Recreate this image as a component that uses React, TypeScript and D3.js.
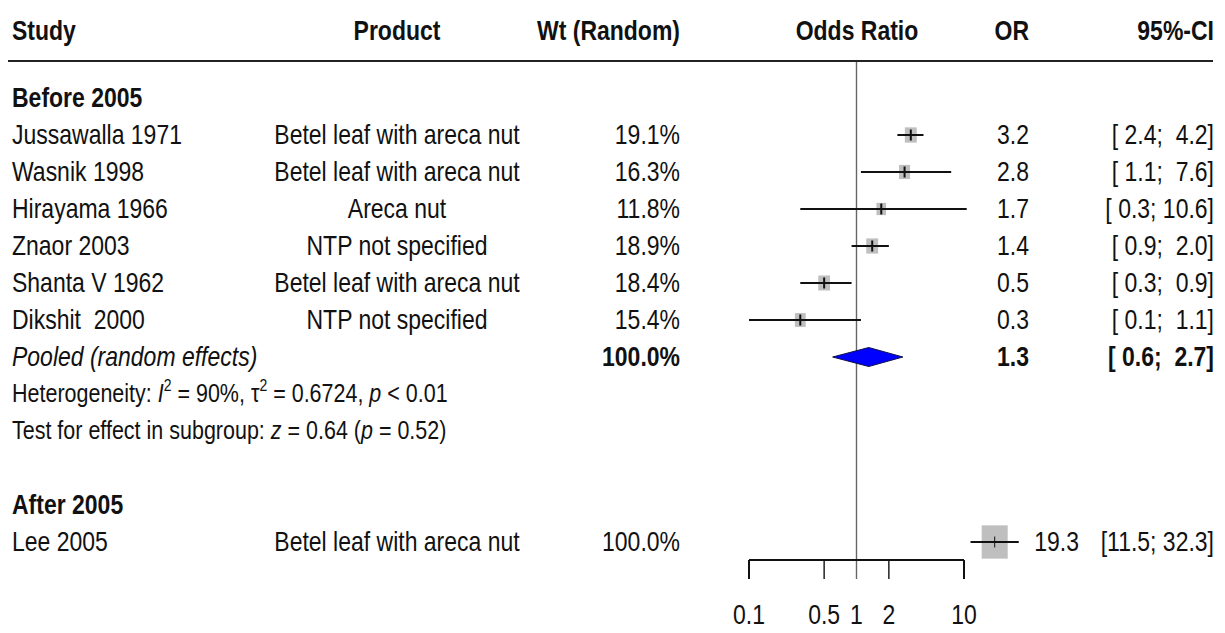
import React from 'react';
import * as d3 from 'd3';

// studies in the "Before 2005" subgroup
const studies = ['Jussawalla 1971', 'Wasnik 1998', 'Hirayama 1966', 'Znaor 2003', 'Shanta V 1962', 'Dikshit  2000'];
const products = ['Betel leaf with areca nut', 'Betel leaf with areca nut', 'Areca nut', 'NTP not specified', 'Betel leaf with areca nut', 'NTP not specified'];
const weights = [19.1, 16.3, 11.8, 18.9, 18.4, 15.4];
const ors = [3.2, 2.8, 1.7, 1.4, 0.5, 0.3];
const lowers = [2.4, 1.1, 0.3, 0.9, 0.3, 0.1];
const uppers = [4.2, 7.6, 10.6, 2.0, 0.9, 1.1];

// pooled estimate for the subgroup
const pooled = { or: 1.3, lower: 0.6, upper: 2.7, weight: 100.0 };
const hetI2 = '90%';
const hetTau2 = '0.6724';
const hetP = '< 0.01';
const testZ = '0.64';
const testP = '0.52';

// "After 2005" subgroup
const lee = { study: 'Lee 2005', product: 'Betel leaf with areca nut', weight: 100.0, or: 19.3, lower: 11.5, upper: 32.3 };

const tickValues = [0.1, 0.5, 1, 2, 10];
const tickLabels = ['0.1', '0.5', '1', '2', '10'];

const W = 1225, H = 633;
const SY = 1.18; // the picture is a little stretched vertically
const FONT = 'Liberation Sans, Arial, sans-serif';

const x = d3.scaleLog().domain([0.1, 10]).range([749, 964]);
const rowY = d3.scaleLinear().domain([0, 1]).range([98, 135]);
const boxW = d3.scaleSqrt().domain([0, 100]).range([0, 25]);

const fmtW = (w: number) => w.toFixed(1) + '%';
const fmtOR = (v: number) => v.toFixed(1);
// R style: pad each bound to 4 characters with a single space
const pad = (v: number) => {
  const s = v.toFixed(1);
  return s.length < 4 ? ' ' + s : s;
};
const fmtCI = (lo: number, hi: number) => '[' + pad(lo) + '; ' + pad(hi) + ']';

function T({ x, y, anchor = 'start', size = 23, weight = 'normal', italic = false, children }: any) {
  return (
    <text
      transform={`translate(${x},${y}) scale(1,${SY})`}
      textAnchor={anchor}
      fontSize={size}
      fontWeight={weight}
      fontStyle={italic ? 'italic' : 'normal'}
      fill="#111"
      style={{ whiteSpace: 'pre' }}
    >
      {children}
    </text>
  );
}

function Study({ cy, or, lo, hi, w }: any) {
  const bw = boxW(w) + 1;
  const bh = bw * 1.28;
  const big = w >= 50;
  return (
    <g>
      <rect x={x(or) - bw / 2} y={cy - bh / 2} width={bw} height={bh} fill="#bfbfbf" />
      <line x1={x(lo)} x2={x(hi)} y1={cy} y2={cy} stroke="#111" strokeWidth={2} />
      <line x1={x(or)} x2={x(or)} y1={cy - 5.5} y2={cy + 5.5} stroke="#111" strokeWidth={big ? 1 : 2} />
    </g>
  );
}

export default function App() {
  const base = 9; // row centre to text baseline
  const pooledY = rowY(7);
  const leeY = rowY(12);
  const axisY = 560;
  const x0 = x(tickValues[0]);
  const x1 = x(tickValues[tickValues.length - 1]);

  return (
    <svg width={W} height={H} style={{ position: 'absolute', left: 0, top: 0, background: '#fff' }} fontFamily={FONT}>
      {/* header */}
      <T x={12} y={40} weight="bold">Study</T>
      <T x={397} y={40} anchor="middle" weight="bold">Product</T>
      <T x={680} y={40} anchor="end" weight="bold">Wt (Random)</T>
      <T x={857} y={40} anchor="middle" weight="bold">Odds Ratio</T>
      <T x={1029} y={40} anchor="end" weight="bold">OR</T>
      <T x={1214} y={40} anchor="end" weight="bold">95%-CI</T>
      <line x1={8} x2={1213} y1={61} y2={61} stroke="#222" strokeWidth={2} />

      {/* reference line at OR = 1 */}
      <line x1={x(1)} x2={x(1)} y1={62} y2={axisY + 19} stroke="#666" strokeWidth={1.4} />

      {/* subgroup: before 2005 */}
      <T x={12} y={rowY(0) + base} weight="bold">Before 2005</T>
      {studies.map((s, i) => {
        const cy = rowY(i + 1);
        return (
          <g key={s}>
            <T x={12} y={cy + base}>{s}</T>
            <T x={397} y={cy + base} anchor="middle">{products[i]}</T>
            <T x={680} y={cy + base} anchor="end">{fmtW(weights[i])}</T>
            <T x={1029} y={cy + base} anchor="end">{fmtOR(ors[i])}</T>
            <T x={1214} y={cy + base} anchor="end">{fmtCI(lowers[i], uppers[i])}</T>
            <Study cy={cy} or={ors[i]} lo={lowers[i]} hi={uppers[i]} w={weights[i]} />
          </g>
        );
      })}

      <T x={12} y={pooledY + base} italic>Pooled (random effects)</T>
      <T x={680} y={pooledY + base} anchor="end" weight="bold">{fmtW(pooled.weight)}</T>
      <T x={1029} y={pooledY + base} anchor="end" weight="bold">{fmtOR(pooled.or)}</T>
      <T x={1214} y={pooledY + base} anchor="end" weight="bold">{fmtCI(pooled.lower, pooled.upper)}</T>
      <path
        d={`M${x(pooled.lower)},${pooledY} L${x(pooled.or)},${pooledY - 9.5} L${x(pooled.upper)},${pooledY} L${x(pooled.or)},${pooledY + 9.5} Z`}
        fill="#0000ff"
        stroke="#10104a"
        strokeWidth={1}
      />

      <T x={12} y={rowY(8) + 8} size={21.5}>
        {'Heterogeneity: '}
        <tspan fontStyle="italic">I</tspan>
        <tspan dy={-9} fontSize={14}>2</tspan>
        <tspan dy={9}>{' = ' + hetI2 + ', τ'}</tspan>
        <tspan dy={-9} fontSize={14}>2</tspan>
        <tspan dy={9}>{' = ' + hetTau2 + ', '}</tspan>
        <tspan fontStyle="italic">p</tspan>
        {' ' + hetP}
      </T>
      <T x={12} y={rowY(9) + 8} size={21.5}>
        {'Test for effect in subgroup: '}
        <tspan fontStyle="italic">z</tspan>
        {' = ' + testZ + ' ('}
        <tspan fontStyle="italic">p</tspan>
        {' = ' + testP + ')'}
      </T>

      {/* subgroup: after 2005 */}
      <T x={12} y={rowY(11) + base} weight="bold">After 2005</T>
      <T x={12} y={leeY + base}>{lee.study}</T>
      <T x={397} y={leeY + base} anchor="middle">{lee.product}</T>
      <T x={680} y={leeY + base} anchor="end">{fmtW(lee.weight)}</T>
      <T x={1079} y={leeY + base} anchor="end">{fmtOR(lee.or)}</T>
      <T x={1214} y={leeY + base} anchor="end">{fmtCI(lee.lower, lee.upper)}</T>
      <Study cy={leeY} or={lee.or} lo={lee.lower} hi={lee.upper} w={lee.weight} />

      {/* axis */}
      <line x1={x0} x2={x1} y1={axisY} y2={axisY} stroke="#111" strokeWidth={2} />
      {tickValues.map((t, i) => (
        <g key={t}>
          {t !== 1 && <line x1={x(t)} x2={x(t)} y1={axisY} y2={axisY + 19} stroke="#111" strokeWidth={i === 0 || i === tickValues.length - 1 ? 2 : 1.4} />}
          <T x={x(t)} y={624} anchor="middle">{tickLabels[i]}</T>
        </g>
      ))}
    </svg>
  );
}
